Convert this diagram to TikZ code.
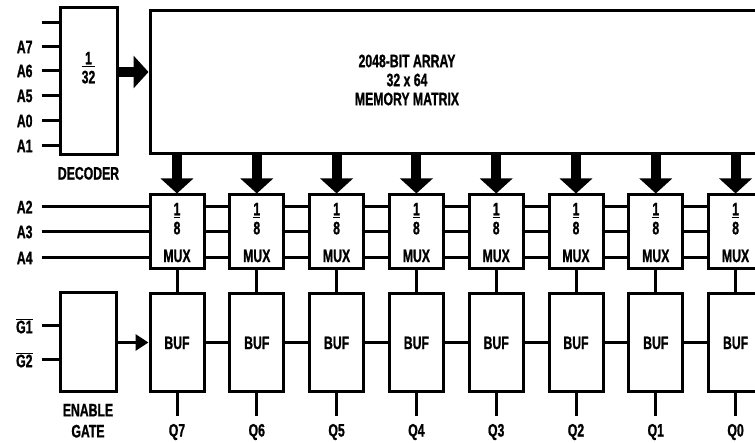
\documentclass[tikz,border=0pt]{standalone}
\usepackage{fontspec}
\newfontfamily\diafont[FakeStretch=0.68, FakeBold=1]{Liberation Sans}
\newcommand{\stackfrac}[2]{{\setlength\arrayrulewidth{1pt}\begin{tabular}{@{}c@{}}#1\\[-4pt]\hline\noalign{\vskip 3pt}#2\end{tabular}}}
\usetikzlibrary{arrows.meta,positioning}

\begin{document}
\begin{tikzpicture}[x=1pt, y=-1pt, line width=3pt,
    every node/.style={font=\diafont\bfseries\fontsize{18}{19}\selectfont, inner sep=0pt},
    block/.style={rectangle, draw, minimum width=54pt},
    muxbox/.style={block, minimum height=74pt,
        label={[yshift=11pt]center:{\stackfrac{1}{8}}}, label={[yshift=-24pt]center:MUX}},
    bufbox/.style={block, minimum height=98pt},
    bus/.style={line width=10pt, -{Triangle[length=15pt, width=32pt]}}]
    \clip (0,0) rectangle (755,443);

    % Nodes
    \node[block, minimum width=57pt, minimum height=147pt] (decoder) at (88.5,81.5) {};
    \node (div32) at (88.5,70) {\stackfrac{1}{32}};
    \node[below=9pt of decoder] (declabel) {DECODER};
    \node[block, minimum width=650pt, minimum height=143pt] (matrix) at (475,82.5) {};
    \node[align=center] (matrixtext) at (407,80) {2048-BIT ARRAY\\32 x 64\\MEMORY MATRIX};
    \node[block, minimum width=56pt, minimum height=99pt] (enable) at (88,342.5) {};
    \node[below=9pt of enable, align=center] (enlabel) {ENABLE\\[2pt]GATE};
    \foreach \i [evaluate=\i as \q using int(7-\i)] in {0,...,7} {
        \node[muxbox] (mux\i) at ({177+79.8*\i},232) {};
        \node[bufbox] (buf\i) at ({177+79.8*\i},343) {BUF};
        \node (q\i) at ({177+79.8*\i},432) {Q\q};
    }

    % Inputs
    \coordinate (in23) at (42,23);
    \draw (in23) -- (in23 -| decoder.west);
    \foreach \name/\y in {A7/47, A6/71, A5/96, A0/121, A1/146} {
        \coordinate (in\y) at (42,\y);
        \node[left=8pt of in\y] (lbl\name) {\name};
        \draw (in\y) -- (in\y -| decoder.west);
    }
    \foreach \name/\y in {A2/207, A3/232, A4/258} {
        \coordinate (sel\name) at (42,\y);
        \node[left=8pt of sel\name] (lbl\name) {\name};
        \draw (sel\name) -- (sel\name -| mux0.west);
        \foreach \i [evaluate=\i as \j using int(\i+1)] in {0,...,6}
            \draw (mux\i.east |- sel\name) -- (mux\j.west |- sel\name);
    }
    \foreach \name/\y in {G1/326, G2/360} {
        \coordinate (en\name) at (42,\y);
        \node[left=8pt of en\name] (lbl\name) {$\overline{\mbox{\name}}$};
        \draw (en\name) -- (en\name -| enable.west);
    }

    % Arrows
    \draw[bus] (decoder.east |- 0,72) -- (matrix.west |- 0,72);
    \foreach \i [evaluate=\i as \j using int(\i+1)] in {0,...,7} {
        \draw[bus] (mux\i.north |- matrix.south) -- (mux\i.north);
        \draw (mux\i) -- (buf\i);
        \draw[shorten >=6pt] (buf\i) -- (q\i.north);
        \ifnum\i<7 \draw (buf\i) -- (buf\j); \fi
    }
    \draw[-{Triangle[length=13pt, width=16pt]}] (enable.east) -- (enable.east -| buf0.west);
\end{tikzpicture}
\end{document}
